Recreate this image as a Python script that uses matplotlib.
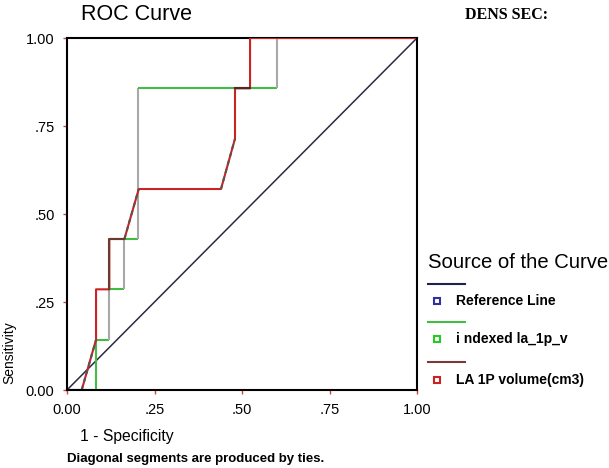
import matplotlib
matplotlib.use("Agg")
import matplotlib.pyplot as plt
from matplotlib.lines import Line2D

W, H = 609, 468

# reference diagonal
ref_fpr = [0.0, 1.0]
ref_tpr = [0.0, 1.0]

# indexed la_1p_v
idx_fpr = [0.0, 0.083, 0.083, 0.121, 0.121, 0.164, 0.164, 0.204, 0.204, 0.600, 0.600, 1.0]
idx_tpr = [0.0, 0.0, 0.143, 0.143, 0.286, 0.286, 0.429, 0.429, 0.857, 0.857, 1.0, 1.0]

# LA 1P volume(cm3)
la_fpr = [0.0, 0.042, 0.083, 0.083, 0.121, 0.121, 0.164, 0.205, 0.440, 0.480, 0.480, 0.523, 0.523, 1.0]
la_tpr = [0.0, 0.0, 0.143, 0.286, 0.286, 0.429, 0.429, 0.571, 0.571, 0.714, 0.857, 0.857, 1.0, 1.0]

ticks = [0, 0.25, 0.5, 0.75, 1.0]
tick_labels = ["0.00", ".25", ".50", ".75", "1.00"]
legend_names = ["Reference Line", "i ndexed la_1p_v", "LA 1P volume(cm3)"]


def fx(px):
    return px / W


def fy(py):
    return 1 - py / H


plt.rcParams["font.family"] = ["Liberation Sans", "DejaVu Sans"]

fig = plt.figure(figsize=(W / 100, H / 100), dpi=100)
ax = fig.add_axes([fx(67), fy(390), fx(417) - fx(67), fy(38) - fy(390)])

ax.plot(ref_fpr, ref_tpr, color="#2a2a48", lw=1.1)

# indexed curve: horizontal steps green, vertical steps gray
for i in range(len(idx_fpr) - 1):
    x0, x1 = idx_fpr[i], idx_fpr[i + 1]
    y0, y1 = idx_tpr[i], idx_tpr[i + 1]
    c = "#44bb44" if (y0 == y1 or i == 1) else "#a8a8a8"
    ax.plot([x0, x1], [y0, y1], color=c, lw=1.5, solid_capstyle="butt")

# LA curve, ties drawn as dashed diagonals
ax.plot(la_fpr, la_tpr, color="#cc2222", lw=1.5)
for i in range(len(la_fpr) - 1):
    x0, x1 = la_fpr[i], la_fpr[i + 1]
    y0, y1 = la_tpr[i], la_tpr[i + 1]
    if x0 != x1 and y0 != y1:
        ax.plot([x0, x1], [y0, y1], color="#555555", lw=1.5, dashes=(2, 2))
ax.plot([0.121, 0.121, 0.164], [0.286, 0.429, 0.429], color="#6a3a30", lw=1.5)
ax.plot([0.480, 0.523], [0.857, 0.857], color="#4a2a2a", lw=1.5)

ax.set_xlim(0, 1)
ax.set_ylim(0, 1)
ax.set_xticks(ticks)
ax.set_yticks(ticks)
ax.set_xticklabels(tick_labels)
ax.set_yticklabels(tick_labels)
ax.tick_params(length=3, width=1, color="#cc4444", labelsize=10.5, pad=6)
for s in ax.spines.values():
    s.set_linewidth(1.5)
    s.set_color("black")
ax.spines["top"].set_zorder(0)

fig.text(fx(81), fy(14), "ROC Curve", fontsize=15.5, va="center", ha="left")
fig.text(fx(465), fy(15), "DENS SEC:", fontsize=11.5, fontweight="bold",
         family="Liberation Serif", va="center", ha="left")
fig.text(fx(80), fy(437), "1 - Specificity", fontsize=11.3, va="center", ha="left")
fig.text(fx(67), fy(459), "Diagonal segments are produced by ties.", fontsize=9.5,
         fontweight="bold", va="center", ha="left")
fig.text(fx(9), fy(353), "Sensitivity", fontsize=10, rotation=90, va="center", ha="center")

# legend
fig.text(fx(428), fy(263), "Source of the Curve", fontsize=14.6, va="center", ha="left")
line_cols = ["#202050", "#44bb44", "#7a3a3a"]
box_cols = ["#3030a0", "#22cc22", "#cc2222"]
line_y = [284, 322, 362]
item_y = [301, 339, 380]
for name, lc, bc, ly, iy in zip(legend_names, line_cols, box_cols, line_y, item_y):
    fig.add_artist(Line2D([fx(428), fx(465)], [fy(ly), fy(ly)], color=lc, lw=1.5))
    fig.add_artist(Line2D([fx(437)], [fy(iy)], marker="s", ms=4.5, mfc="white",
                          mec=bc, mew=1.5, ls="none"))
    fig.text(fx(456), fy(iy), name, fontsize=10, fontweight="bold", va="center", ha="left")

fig.savefig("out.png", dpi=100)
